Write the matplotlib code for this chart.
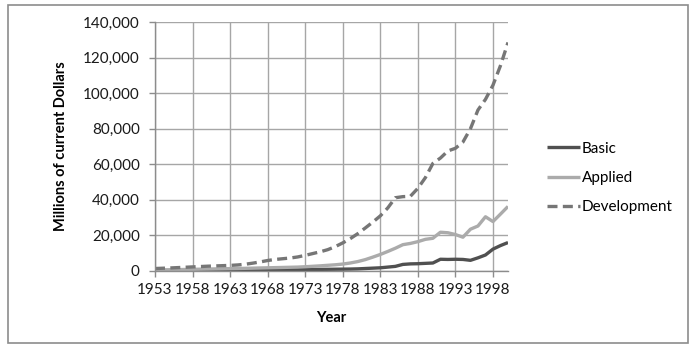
import numpy as np
import matplotlib
matplotlib.use("Agg")
import matplotlib.pyplot as plt
from matplotlib.patches import Rectangle
from matplotlib.ticker import FuncFormatter

plt.rcParams['font.family'] = ['Lato', 'DejaVu Sans']

years = list(range(1953, 2001))

basic = [200, 230, 260, 300, 340, 380, 420, 460, 500, 540, 580, 620, 660, 700, 740,
         780, 800, 820, 840, 860, 880, 900, 930, 960, 1000, 1050, 1100, 1200, 1400,
         1600, 1800, 2200, 2600, 3700, 4000, 4100, 4300, 4500, 6600, 6500, 6600, 6500,
         6000, 7400, 9000, 12300, 14300, 16000]

applied = [600, 650, 700, 780, 860, 940, 1020, 1100, 1180, 1260, 1340, 1420, 1500,
           1600, 1700, 1800, 1900, 2000, 2100, 2200, 2400, 2650, 2900, 3200, 3500,
           3900, 4500, 5300, 6400, 7800, 9300, 11000, 12800, 14800, 15500, 16500,
           17800, 18400, 21800, 21500, 20500, 19000, 23500, 25300, 30500, 27800,
           32000, 36300]

development = [1400, 1550, 1700, 1900, 2100, 2300, 2500, 2700, 2850, 3000, 3150, 3400,
               3800, 4400, 5100, 5900, 6500, 6900, 7300, 7900, 8800, 9800, 10800, 12000,
               13700, 15800, 18200, 21000, 24200, 27500, 31000, 35500, 41200, 41800,
               42000, 46500, 52500, 60500, 63500, 67500, 69000, 72500, 80000, 90500,
               96500, 104500, 115500, 128500]

xtick_years = years[::5]

fig = plt.figure(figsize=(7.0, 3.53), dpi=100)
ax = fig.add_axes([155 / 700, 1 - 271 / 353, (508 - 155) / 700, (271 - 22) / 353])

# outer chart border
fig.patches.append(Rectangle((8 / 700, 1 - 343 / 353), 680 / 700, 338 / 353,
                             transform=fig.transFigure, fill=False,
                             edgecolor='#8c8c8c', linewidth=1.2))

grid_c = '#a6a6a6'
ax.plot(years, basic, color='#505050', lw=2.4, label='Basic', solid_capstyle='butt')
ax.plot(years, applied, color='#ababab', lw=2.4, label='Applied', solid_capstyle='butt')
ax.plot(years, development, color='#767676', lw=2.4, dashes=(3, 1.6), label='Development')

ax.set_xlim(1953, 2000)
ax.set_ylim(0, 140000)
ax.set_xticks(xtick_years)
ax.set_yticks(np.arange(0, 140001, 20000))
ax.yaxis.set_major_formatter(FuncFormatter(lambda v, p: '{:,.0f}'.format(v)))
ax.grid(True, color=grid_c, linewidth=1.0)
ax.set_axisbelow(True)

for s in ['top', 'right']:
    ax.spines[s].set_visible(False)
for s in ['left', 'bottom']:
    ax.spines[s].set_color('#8c8c8c')
    ax.spines[s].set_linewidth(1.0)
ax.tick_params(axis='both', colors='#8c8c8c', length=4, width=1.0, labelsize=11,
               labelcolor='#1a1a1a')
ax.tick_params(axis='y', pad=7)
ax.tick_params(axis='x', pad=5)

ax.set_xlabel('Year', fontsize=10.5, fontweight='bold', labelpad=10)
ax.set_ylabel('Millions of current Dollars', fontsize=10.5, fontweight='bold', labelpad=11)

ax.legend(loc='upper left', bbox_to_anchor=(533 / 700, 1 - 128 / 353),
          bbox_transform=fig.transFigure, frameon=False, fontsize=11,
          handlelength=2.2, handletextpad=0.1, labelspacing=1.0)

fig.savefig('out.png', dpi=100)
